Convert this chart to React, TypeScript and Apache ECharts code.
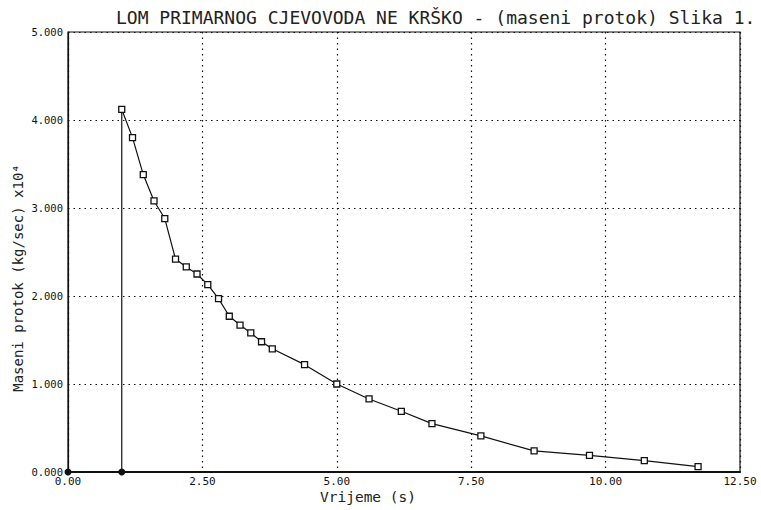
import React, { useEffect, useRef } from "react";
import * as echarts from "echarts";

const titleText = "LOM PRIMARNOG CJEVOVODA NE KRŠKO - (maseni protok) Slika 1.";
const xName = "Vrijeme (s)";
const yName = "Maseni protok (kg/sec) x10⁴";

const startTimes = [0, 1.0];
const startFlow = [0, 0];

const times = [1.0, 1.2, 1.4, 1.6, 1.8, 2.0, 2.2, 2.4, 2.6, 2.8, 3.0, 3.2, 3.4, 3.6, 3.8, 4.4, 5.0, 5.6, 6.2, 6.77, 7.68, 8.67, 9.7, 10.72, 11.72];
const flow = [4.12, 3.8, 3.38, 3.08, 2.88, 2.42, 2.33, 2.25, 2.13, 1.97, 1.77, 1.67, 1.58, 1.48, 1.4, 1.22, 1.0, 0.83, 0.69, 0.55, 0.41, 0.24, 0.19, 0.13, 0.06];

export default function App() {
  const ref = useRef<HTMLDivElement>(null);
  useEffect(() => {
    if (!ref.current) return;
    const chart = echarts.init(ref.current, null, { renderer: "svg" });
    const baseData: any[] = startTimes.map((t, i) => ({
      value: [t, startFlow[i]],
      symbol: "circle",
      symbolSize: 7,
    }));
    baseData.push({ value: [times[0], flow[0]], symbol: "none" });
    const mono = "DejaVu Sans Mono";
    chart.setOption({
      animation: false,
      backgroundColor: "#ffffff",
      title: {
        text: titleText,
        left: 111,
        top: 3,
        textStyle: { fontFamily: mono, fontSize: 18, fontWeight: "normal", color: "#222" },
      },
      graphic: [
        {
          type: "text",
          x: 18,
          y: 278,
          rotation: Math.PI / 2,
          style: {
            text: yName,
            fontFamily: mono,
            fontSize: 14,
            fill: "#222",
            align: "center",
            verticalAlign: "middle",
          },
        },
        {
          type: "text",
          x: 368,
          y: 497,
          style: {
            text: xName,
            fontFamily: mono,
            fontSize: 14.5,
            fill: "#222",
            align: "center",
            verticalAlign: "middle",
          },
        },
      ],
      grid: {
        left: 68,
        right: 21,
        top: 32,
        bottom: 38,
        show: true,
        borderColor: "#111",
        borderWidth: 1.2,
      },
      xAxis: {
        type: "value",
        min: 0,
        max: 12.5,
        interval: 2.5,
        axisLine: { show: true, onZero: false, lineStyle: { color: "#111", width: 2.2 } },
        axisTick: { show: false },
        axisLabel: {
          margin: 4,
          fontFamily: mono,
          fontSize: 11,
          color: "#111",
          formatter: (v: number) => v.toFixed(2),
        },
        splitLine: { show: true, lineStyle: { color: "#111", type: [1.5, 4], width: 1.2 } },
      },
      yAxis: {
        type: "value",
        min: 0,
        max: 5,
        interval: 1,
        axisLine: { show: true, lineStyle: { color: "#111", width: 1.2 } },
        axisTick: { show: false },
        axisLabel: {
          margin: 5,
          fontFamily: mono,
          fontSize: 10.5,
          color: "#111",
          padding: [0, 0, 5, 0],
          formatter: (v: number) => v.toFixed(3),
        },
        splitLine: { show: true, lineStyle: { color: "#111", type: [1.5, 4], width: 1.2 } },
      },
      series: [
        {
          type: "line",
          data: baseData,
          itemStyle: { color: "#111" },
          lineStyle: { color: "#111", width: 1.2 },
          z: 3,
        },
        {
          type: "line",
          data: times.map((t, i) => [t, flow[i]]),
          symbol: "rect",
          symbolSize: 6,
          itemStyle: { color: "#fff", borderColor: "#111", borderWidth: 1.3 },
          lineStyle: { color: "#111", width: 1.2 },
          z: 4,
        },
      ],
    });
    return () => chart.dispose();
  }, []);
  return <div ref={ref} style={{ width: 761, height: 510, position: "absolute", left: 0, top: 0 }} />;
}
